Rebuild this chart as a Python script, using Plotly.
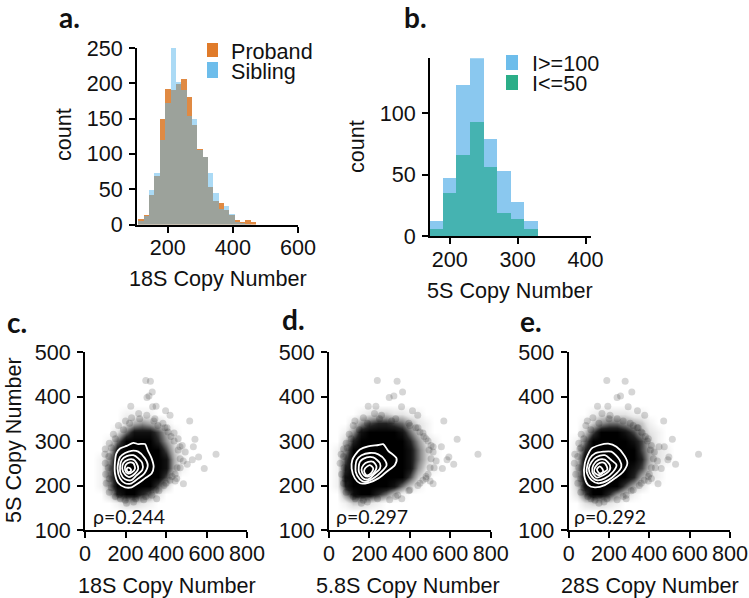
import plotly.graph_objects as go

W, H = 749, 598

# panel a: histogram of 18S copy number
bins_18s = [118.2, 134.6, 151, 167.4, 183.8, 200.2, 216.6, 233, 249.4, 265.8, 282.2, 298.6, 315, 331.4, 347.8, 364.2, 380.6, 397, 413.4, 429.8, 446.2, 462.6]
proband = [8, 14, 42, 69, 149, 192, 190, 199, 206, 180, 141, 107, 95, 53, 34, 31, 21, 13, 7, 3, 7, 3]
sibling = [5, 12, 49, 73, 119, 172, 253, 202, 190, 154, 149, 105, 95, 73, 44, 22, 26, 15, 3, 2, 1, 0]

# panel b: histogram of 5S copy number
bins_5s = [180, 200, 220, 240, 260, 280, 300, 320]
iq_high = [12, 47, 123, 145, 79, 53, 28, 12]
iq_low = [6, 35, 66, 93, 56, 19, 14, 6]

# panels c-e: the same 5S values against three other genes
outlier_5s = [436, 434, 410, 398, 401, 377, 378, 378, 368, 358, 345, 304, 287, 264, 258, 270, 248, 238, 287, 204, 216, 170, 282, 167]
outlier_c = [300, 323, 332, 306, 316, 334, 226, 351, 398, 420, 517, 543, 535, 561, 530, 647, 505, 589, 469, 486, 453, 354, 100, 198]
outlier_d = [239, 337, 364, 298, 321, 359, 232, 194, 413, 439, 568, 634, 556, 593, 584, 737, 617, 561, 515, 515, 480, 360, 72, 170]
outlier_e = [189, 280, 313, 240, 257, 295, 143, 194, 341, 377, 471, 514, 474, 497, 492, 644, 530, 459, 448, 443, 410, 285, 55, 130]

fringe_5s = [175, 185, 205, 225, 250, 270, 295, 315, 335, 345, 352, 362, 358, 350, 340, 330, 318, 305, 290, 275, 255, 240, 225, 212, 200, 188, 178, 168, 163, 160, 170,
             180, 195, 215, 240, 265, 285, 305, 325, 340, 350, 345, 335, 320, 300, 280, 260, 240, 220, 205, 190, 175, 170, 310, 330, 210]
fringe_c = [150, 120, 105, 102, 100, 98, 120, 140, 165, 200, 230, 265, 305, 345, 385, 405, 440, 460, 480, 495, 485, 470, 445, 420, 390, 365, 330, 290, 240, 205, 175,
            170, 130, 120, 115, 118, 130, 150, 190, 220, 270, 340, 360, 410, 440, 460, 470, 455, 430, 400, 350, 300, 250, 425, 395, 445]
fringe_d = [120, 85, 72, 62, 55, 60, 85, 100, 120, 128, 170, 225, 260, 330, 395, 430, 465, 480, 505, 515, 530, 500, 490, 465, 440, 395, 340, 300, 190, 160, 130,
            140, 100, 80, 75, 72, 90, 110, 150, 190, 250, 310, 400, 450, 490, 495, 505, 520, 480, 450, 400, 330, 240, 470, 440, 500]
fringe_e = [95, 60, 45, 35, 28, 30, 50, 62, 85, 92, 120, 165, 205, 240, 305, 345, 365, 395, 410, 425, 440, 410, 400, 375, 350, 310, 285, 240, 175, 150, 110,
            120, 75, 60, 50, 45, 60, 75, 110, 150, 200, 270, 320, 360, 390, 405, 420, 430, 395, 360, 320, 270, 190, 380, 340, 395]

# darkness of the overplotted cloud, read by eye on a coarse grid (0 white, 10 black)
grid_x = [0, 40, 80, 120, 160, 200, 240, 280, 320, 360, 400, 440, 480, 520, 560]
grid_y = [140, 160, 180, 200, 220, 240, 260, 280, 300, 320, 340, 360, 380]
dark_c = [
    [0, 0, 0, 0, 0, 0, 0, 0, 0, 0, 0, 0, 0, 0, 0],
    [0, 0, 0, 0, 1, 3, 3, 2, 1, 0, 0, 0, 0, 0, 0],
    [0, 0, 0, 3, 8, 10, 10, 8, 6, 2, 0, 0, 0, 0, 0],
    [0, 0, 1, 5, 10, 10, 10, 10, 10, 7, 3, 0, 0, 0, 0],
    [0, 0, 1, 6, 10, 10, 10, 10, 10, 10, 7, 2, 0, 0, 0],
    [0, 0, 1, 6, 10, 10, 10, 10, 10, 10, 9, 4, 1, 0, 0],
    [0, 0, 1, 5, 10, 10, 10, 10, 10, 10, 9, 4, 1, 0, 0],
    [0, 0, 0, 3, 9, 10, 10, 10, 10, 10, 7, 3, 1, 0, 0],
    [0, 0, 0, 1, 6, 10, 10, 10, 10, 8, 5, 2, 0, 0, 0],
    [0, 0, 0, 0, 2, 6, 9, 9, 9, 7, 4, 1, 0, 0, 0],
    [0, 0, 0, 0, 0, 2, 4, 5, 4, 3, 1, 0, 0, 0, 0],
    [0, 0, 0, 0, 0, 1, 1, 1, 1, 0, 0, 0, 0, 0, 0],
    [0, 0, 0, 0, 0, 0, 0, 0, 0, 0, 0, 0, 0, 0, 0],
]
dark_d = [
    [0, 0, 0, 0, 0, 0, 0, 0, 0, 0, 0, 0, 0, 0, 0],
    [0, 0, 1, 3, 3, 2, 1, 0, 0, 0, 0, 0, 0, 0, 0],
    [0, 0, 5, 9, 10, 10, 8, 6, 3, 1, 0, 0, 0, 0, 0],
    [0, 1, 8, 10, 10, 10, 10, 10, 9, 6, 3, 1, 0, 0, 0],
    [0, 1, 9, 10, 10, 10, 10, 10, 10, 10, 7, 3, 1, 0, 0],
    [0, 1, 8, 10, 10, 10, 10, 10, 10, 10, 9, 5, 2, 1, 0],
    [0, 1, 7, 10, 10, 10, 10, 10, 10, 10, 9, 6, 3, 1, 0],
    [0, 1, 5, 10, 10, 10, 10, 10, 10, 10, 9, 6, 3, 1, 0],
    [0, 0, 3, 8, 10, 10, 10, 10, 10, 10, 8, 5, 2, 1, 0],
    [0, 0, 1, 5, 9, 10, 10, 10, 10, 9, 6, 3, 1, 0, 0],
    [0, 0, 0, 2, 5, 7, 8, 8, 7, 6, 4, 2, 1, 0, 0],
    [0, 0, 0, 0, 1, 2, 3, 3, 2, 2, 1, 1, 0, 0, 0],
    [0, 0, 0, 0, 0, 0, 0, 0, 0, 0, 0, 0, 0, 0, 0],
]
dark_e = [
    [0, 0, 0, 0, 0, 0, 0, 0, 0, 0, 0, 0, 0, 0, 0],
    [0, 0, 2, 3, 3, 2, 1, 0, 0, 0, 0, 0, 0, 0, 0],
    [0, 2, 7, 10, 10, 8, 5, 3, 1, 0, 0, 0, 0, 0, 0],
    [0, 3, 9, 10, 10, 10, 10, 7, 4, 2, 0, 0, 0, 0, 0],
    [0, 4, 10, 10, 10, 10, 10, 10, 8, 4, 2, 1, 0, 0, 0],
    [0, 4, 10, 10, 10, 10, 10, 10, 9, 7, 3, 1, 0, 0, 0],
    [0, 3, 10, 10, 10, 10, 10, 10, 10, 8, 4, 2, 1, 0, 0],
    [0, 2, 8, 10, 10, 10, 10, 10, 10, 7, 4, 2, 1, 0, 0],
    [0, 1, 6, 10, 10, 10, 10, 10, 9, 7, 3, 1, 0, 0, 0],
    [0, 0, 3, 7, 10, 10, 10, 9, 7, 4, 2, 1, 0, 0, 0],
    [0, 0, 1, 3, 5, 6, 6, 5, 4, 3, 1, 0, 0, 0, 0],
    [0, 0, 0, 1, 2, 2, 2, 2, 1, 1, 0, 0, 0, 0, 0],
    [0, 0, 0, 0, 0, 0, 0, 0, 0, 0, 0, 0, 0, 0, 0],
]

contours_c = [
    [(155, 272), (173, 283), (206, 289), (239, 296), (263, 293), (296, 293), (310, 279), (329, 261), (339, 242), (329, 227), (296, 216), (263, 205), (230, 196), (198, 196), (165, 205), (148, 227), (148, 253)],
    [(173, 264), (198, 273), (230, 278), (263, 276), (296, 261), (310, 246), (293, 227), (263, 216), (230, 205), (198, 205), (173, 216), (161, 238)],
    [(181, 257), (206, 266), (239, 268), (263, 261), (283, 250), (283, 235), (255, 223), (230, 212), (198, 214), (176, 227), (173, 242)],
    [(189, 250), (214, 258), (239, 258), (255, 250), (263, 238), (247, 227), (217, 219), (194, 227), (184, 238)],
    [(201, 246), (222, 252), (239, 250), (247, 238), (230, 229), (211, 227), (198, 235)],
    [(211, 240), (224, 238), (227, 233), (214, 230), (206, 235)],
]
contours_d = [
    [(128, 268), (153, 281), (194, 288), (244, 291), (268, 293), (293, 278), (334, 261), (326, 246), (285, 231), (244, 216), (194, 206), (153, 205), (128, 216), (112, 238), (115, 257)],
    [(137, 257), (161, 268), (202, 273), (244, 270), (277, 257), (285, 246), (260, 231), (219, 216), (178, 208), (153, 214), (132, 231)],
    [(153, 253), (186, 263), (219, 263), (252, 250), (252, 238), (227, 227), (194, 214), (170, 216), (148, 231)],
    [(170, 246), (194, 253), (219, 253), (235, 242), (219, 227), (194, 220), (174, 223), (161, 235)],
    [(178, 238), (202, 246), (219, 238), (207, 227), (186, 223), (174, 231)],
]
contours_e = [
    [(94, 268), (113, 283), (154, 291), (196, 294), (237, 287), (278, 266), (291, 250), (270, 231), (229, 216), (179, 201), (130, 196), (97, 201), (77, 223), (80, 250)],
    [(105, 261), (130, 272), (171, 276), (212, 276), (253, 257), (261, 242), (237, 227), (196, 212), (146, 205), (113, 212), (89, 231)],
    [(113, 253), (138, 264), (179, 268), (212, 257), (237, 246), (220, 231), (179, 216), (138, 212), (110, 223), (100, 238)],
    [(122, 246), (146, 257), (179, 258), (204, 246), (204, 235), (171, 223), (138, 218), (117, 231)],
    [(133, 242), (154, 251), (179, 250), (192, 236), (171, 229), (150, 223), (126, 231)],
    [(140, 236), (154, 243), (166, 238), (171, 231), (154, 227)],
]

ARIAL = "Liberation Sans"
LATO = "Lato"
INK = "#111"
FONT = 21.6


def dom_x(a, b):
    return [a / W, b / W]


def dom_y(top, bottom):
    return [1 - bottom / H, 1 - top / H]


def style_axis(rng, tickvals, standoff):
    return dict(
        range=rng, tickvals=tickvals, showgrid=False, zeroline=False, automargin=False,
        showline=True, linecolor="black", linewidth=2, ticks="outside", ticklen=6,
        tickwidth=2, tickcolor="black", tickfont=dict(family=ARIAL, size=FONT, color=INK),
        ticklabelstandoff=standoff,
    )


fig = go.Figure()

# histograms
fig.add_trace(go.Bar(x=bins_18s, y=proband, width=16.4, name="Proband", marker=dict(color="#E08A43", line_width=0), xaxis="x", yaxis="y"))
fig.add_trace(go.Bar(x=bins_18s, y=sibling, width=16.4, name="Sibling", marker=dict(color="rgba(93,185,236,0.52)", line_width=0), xaxis="x", yaxis="y"))
fig.add_trace(go.Bar(x=bins_5s, y=iq_high, width=20, name="I>=100", marker=dict(color="#8AC8EF", line_width=0), xaxis="x2", yaxis="y2"))
fig.add_trace(go.Bar(x=bins_5s, y=iq_low, width=20, name="I<=50", marker=dict(color="rgba(0,158,115,0.5)", line_width=0), xaxis="x2", yaxis="y2"))

# scatter panels
panels = [
    ("x3", "y3", outlier_c, fringe_c, dark_c, contours_c),
    ("x4", "y4", outlier_d, fringe_d, dark_d, contours_d),
    ("x5", "y5", outlier_e, fringe_e, dark_e, contours_e),
]
for xa, ya, outliers, fringe, dark, contours in panels:
    fig.add_trace(go.Heatmap(
        x=grid_x, y=grid_y, z=dark, zmin=0, zmax=10, zsmooth="best", showscale=False,
        colorscale=[[0, "white"], [0.2, "#e4e4e4"], [0.5, "#909090"], [0.8, "#222222"], [1, "black"]],
        hoverinfo="skip", xaxis=xa, yaxis=ya,
    ))
    fig.add_trace(go.Scatter(
        x=outliers + fringe, y=outlier_5s + fringe_5s, mode="markers",
        marker=dict(size=7, color="rgba(0,0,0,0.16)", line_width=0), xaxis=xa, yaxis=ya,
    ))
    for c in contours:
        pts = c + c[:1]
        fig.add_trace(go.Scatter(
            x=[p[0] for p in pts], y=[p[1] for p in pts], mode="lines",
            line=dict(color="white", width=1.8, shape="spline", smoothing=0.8),
            hoverinfo="skip", xaxis=xa, yaxis=ya,
        ))

fig.update_layout(
    width=W, height=H, margin=dict(l=0, r=0, t=0, b=0), autosize=False,
    paper_bgcolor="white", plot_bgcolor="rgba(0,0,0,0)", barmode="overlay", bargap=0,
    showlegend=False,
    xaxis=dict(domain=dom_x(137, 298), anchor="y", **style_axis([105.5, 600], [200, 400, 600], -3)),
    yaxis=dict(domain=dom_y(48, 224.5), anchor="x", **style_axis([0, 250], [0, 50, 100, 150, 200, 250], 2)),
    xaxis2=dict(domain=dom_x(430, 591), anchor="y2", **style_axis([171, 408], [200, 300, 400], -3)),
    yaxis2=dict(domain=dom_y(58.3, 236.3), anchor="x2", **style_axis([0, 144.7], [0, 50, 100], 2)),
    xaxis3=dict(domain=dom_x(85, 247), anchor="y3", **style_axis([0, 800], [0, 200, 400, 600, 800], -3)),
    yaxis3=dict(domain=dom_y(352, 530), anchor="x3", **style_axis([100, 500], [100, 200, 300, 400, 500], 2)),
    xaxis4=dict(domain=dom_x(329, 490.7), anchor="y4", **style_axis([0, 800], [0, 200, 400, 600, 800], -3)),
    yaxis4=dict(domain=dom_y(352, 530), anchor="x4", **style_axis([100, 500], [100, 200, 300, 400, 500], 2)),
    xaxis5=dict(domain=dom_x(568.7, 730), anchor="y5", **style_axis([0, 800], [0, 200, 400, 600, 800], -3)),
    yaxis5=dict(domain=dom_y(352, 530), anchor="x5", **style_axis([100, 500], [100, 200, 300, 400, 500], 2)),
)


def paper_text(text, px, py, family=ARIAL, size=FONT, bold=False, anchor="left", angle=0):
    fig.add_annotation(
        text=f"<b>{text}</b>" if bold else text, x=px / W, y=1 - py / H, xref="paper", yref="paper",
        xanchor=anchor, yanchor="middle", showarrow=False, textangle=angle,
        font=dict(family=family, size=size, color=INK),
    )


def swatch(x0, y0, x1, y1, color):
    fig.add_shape(type="rect", xref="paper", yref="paper", x0=x0 / W, x1=x1 / W, y0=1 - y1 / H, y1=1 - y0 / H,
                  fillcolor=color, line_width=0)


# axis titles, placed to the pixel of the reference
paper_text("18S Copy Number", 218, 278, anchor="center")
paper_text("count", 64, 135, anchor="center", angle=-90)
paper_text("5S Copy Number", 510, 290, anchor="center")
paper_text("count", 357, 147, anchor="center", angle=-90)
paper_text("5S Copy Number", 13, 440, anchor="center", angle=-90)
paper_text("18S Copy Number", 167, 585, anchor="center")
paper_text("5.8S Copy Number", 408, 585, anchor="center")
paper_text("28S Copy Number", 650, 585, anchor="center")

# panel letters
paper_text("a.", 57, 17, LATO, 28, True)
paper_text("b.", 402, 17, LATO, 28, True)
paper_text("c.", 5, 322, LATO, 28, True)
paper_text("d.", 280, 319, LATO, 28, True)
paper_text("e.", 518, 321, LATO, 28, True)

# legends
swatch(207, 43, 218, 57, "#E07B2A")
swatch(207, 62, 218, 78, "#6DBDEB")
paper_text("Proband", 229, 51)
paper_text("Sibling", 229, 71)
swatch(506, 55, 518, 70, "#6DBDEB")
swatch(506, 75, 518, 90, "#2BAE88")
paper_text("I>=100", 530, 63)
paper_text("I<=50", 530, 83)

# correlation labels
paper_text("ρ=0.244", 91, 516, LATO, 19.5)
paper_text("ρ=0.297", 334, 516, LATO, 19.5)
paper_text("ρ=0.292", 572, 516, LATO, 19.5)

fig.write_html("out.html", config=dict(displayModeBar=False),
               post_script="document.body.style.margin='0';document.body.style.overflow='hidden';")
